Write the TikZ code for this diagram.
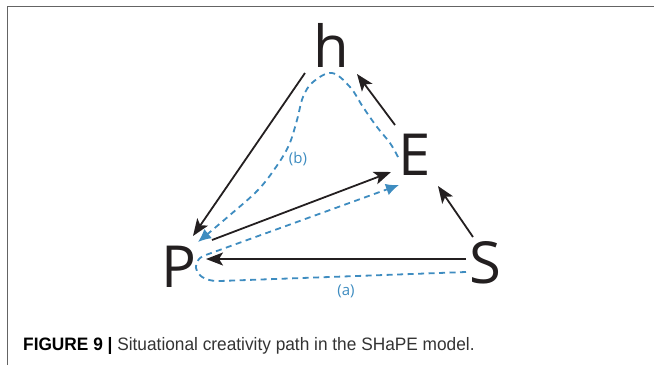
\documentclass[tikz,border=0pt]{standalone}
\usepackage{fontspec}
\setmainfont{Open Sans}
\newfontfamily\capfont{Liberation Sans}
\usetikzlibrary{arrows.meta}
\definecolor{pathblue}{RGB}{62,140,192}
\definecolor{framegray}{RGB}{100,100,100}
\definecolor{ink}{RGB}{35,31,32}
\tikzset{
  letter/.style={font=\fontsize{58}{58}\selectfont, inner sep=0pt, anchor=base, text=ink},
  solidarrow/.style={line width=1.8pt, ink, -{Stealth[length=17pt,width=13pt,inset=4pt]}},
  bluepath/.style={line width=1.8pt, pathblue, dash pattern=on 6pt off 4.5pt},
  bluetip/.style={-{Latex[length=13pt,width=12pt]}},
  pathlabel/.style={font=\fontsize{15}{15}\selectfont, text=pathblue, inner sep=0pt},
  frameline/.style={line width=1.6pt, framegray}
}
\begin{document}
\begin{tikzpicture}[x=1pt,y=-1pt]
\useasboundingbox (0,0) rectangle (654,365);
% frame
\draw[frameline] (7.5,365) -- (7.5,6.5) -- (654,6.5);
% letters
\node[letter] (h) at (331,67) {h};
\node[letter] (E) at (415,175) {E};
\node[letter] (P) at (179,287) {P};
\node[letter] (S) at (485,283) {S};
% arrow endpoints
\coordinate (hP1) at (305,73);
\coordinate (hP2) at (193,236);
\coordinate (Eh1) at (395,125);
\coordinate (Eh2) at (357,74);
\coordinate (PE1) at (212,240);
\coordinate (PE2) at (391,172);
\coordinate (SE1) at (473,237);
\coordinate (SE2) at (438,186);
\coordinate (SP1) at (466,259);
\coordinate (SP2) at (206,259);
\draw[solidarrow] (hP1) -- (hP2);
\draw[solidarrow] (Eh1) -- (Eh2);
\draw[solidarrow] (PE1) -- (PE2);
\draw[solidarrow] (SE1) -- (SE2);
\draw[solidarrow] (SP1) -- (SP2);
% path (a)
\coordinate (a0) at (466,272);
\coordinate (a1) at (220,281);
\coordinate (a2) at (203,256);
\coordinate (a3) at (399,185);
\draw[bluepath, bluetip] (a0) -- (a1) .. controls (196,282) and (189,264) .. (a2) -- (a3);
% path (b)
\draw[bluepath, bluetip] plot[smooth, tension=0.6] coordinates {(398,157) (390,143) (377,127) (363,107) (350,87) (332,73) (313,82) (303,97) (297,120) (289,145) (276,167) (258,190) (230,215) (198,242)};
\node[pathlabel] (lb) at (298,159) {(b)};
\node[pathlabel] (la) at (346,291) {(a)};
% caption
\node[anchor=base west, inner sep=0pt, font=\capfont\fontsize{18}{18}\selectfont, xscale=0.96, transform shape] (cap) at (23,350) {\textbf{FIGURE 9 |} \textcolor{black!80}{Situational creativity path in the SHaPE model.}};
\end{tikzpicture}
\end{document}
